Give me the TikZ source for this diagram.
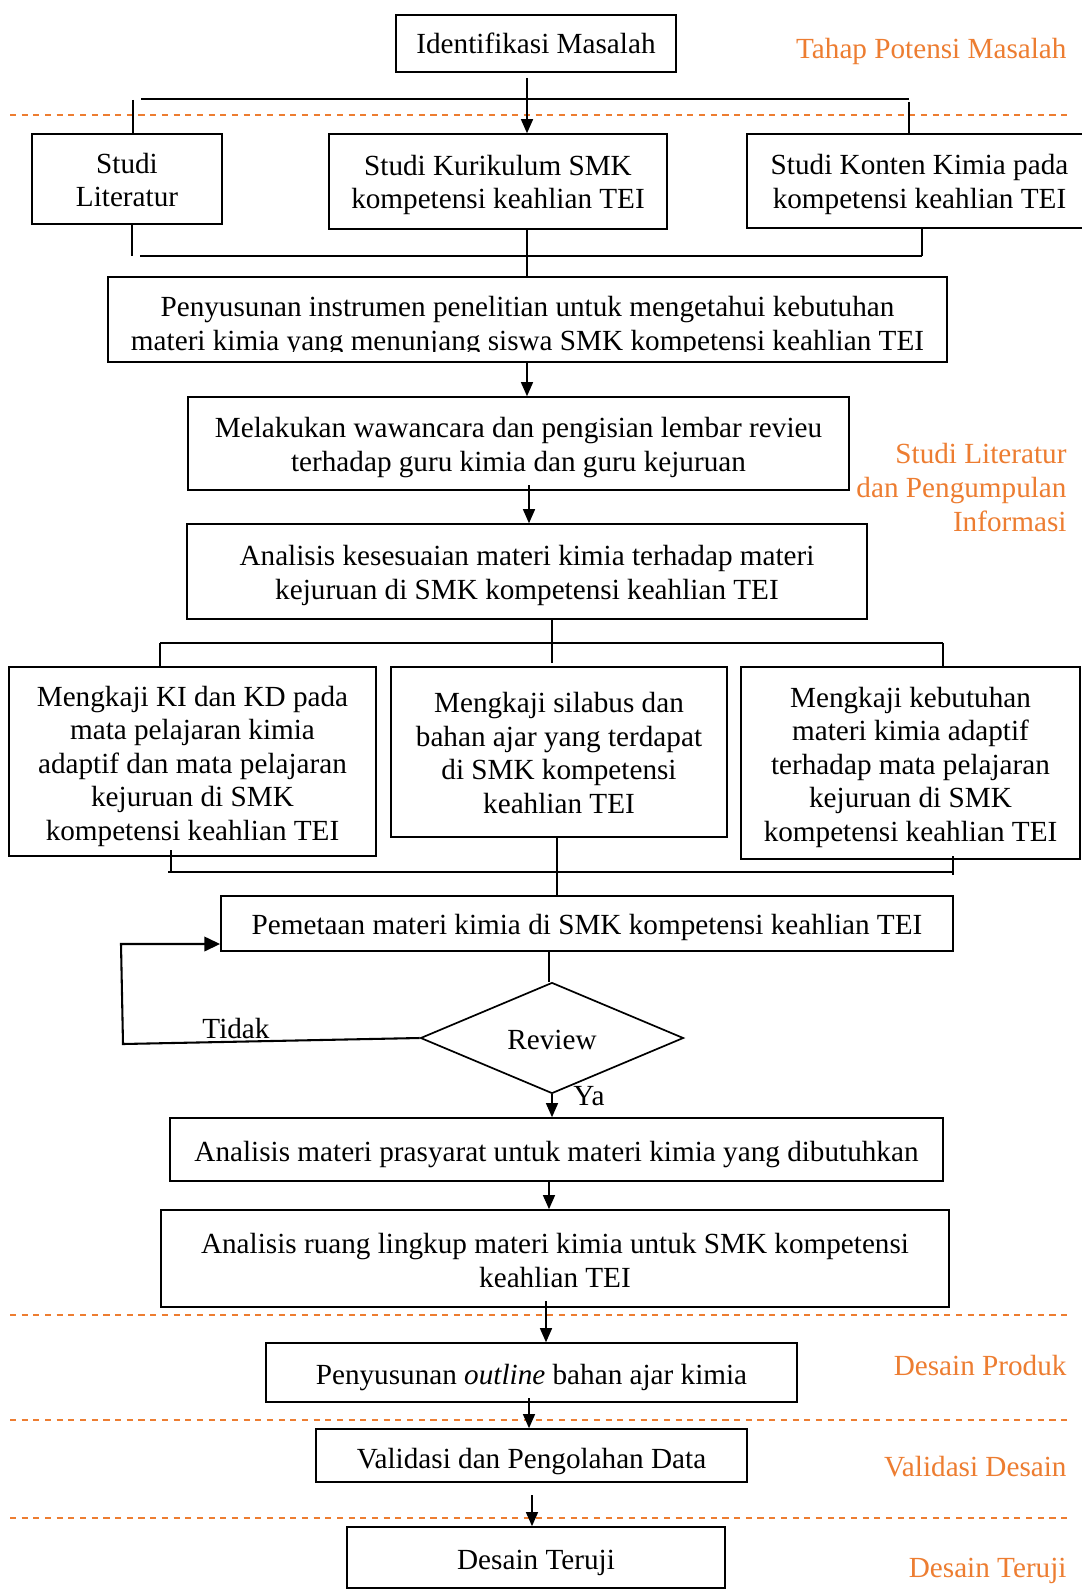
\documentclass[tikz,border=0pt]{standalone}
\usepackage{fontspec}
\setmainfont{Liberation Serif}
\usetikzlibrary{shapes.geometric,arrows.meta,calc}
\definecolor{org}{HTML}{ED7D31}
% text block lowered by #1 without changing the node's size
\newcommand\tbk[2][0pt]{\raisebox{-#1}[\height][\depth]{\begin{tabular}{@{}c@{}}#2\end{tabular}}}
\begin{document}
\begin{tikzpicture}[x=0.411pt,y=-0.411pt,
  every node/.style={font=\fontsize{12pt}{13.8pt}\selectfont},
  box/.style={draw, line width=0.7pt, inner sep=0pt},
  conn/.style={line width=0.45pt},
  arr/.style={line width=0.45pt, -{Triangle[length=5.8pt,width=5pt]}},
  brk/.style={line width=1.1pt},
  loopl/.style={line width=0.85pt},
  phase/.style={draw=org, line width=0.8pt, dash pattern=on 2.5pt off 2.3pt},
  lbl/.style={text=org, align=right, anchor=east, inner sep=0pt},
]
\path[use as bounding box, fill=white] (0,0) rectangle (1081,1590);

% phase separators
\foreach \yy in {115,1315,1420,1518} \draw[phase] (10,\yy) -- (1067,\yy);

% boxes
\node[box, minimum width=115.1pt, minimum height=23.4pt] (I) at (536,43.5) {\tbk[1.34pt]{Identifikasi Masalah}};
\node[box, minimum width=78.1pt, minimum height=37pt] (SL) at (127,179) {\tbk[1.74pt]{Studi\\Literatur}};
\node[box, minimum width=138.9pt, minimum height=39pt] (SK) at (498,181.5) {\tbk[1.5pt]{Studi Kurikulum SMK\\kompetensi keahlian TEI}};
\node[box, minimum width=141.8pt, minimum height=38.6pt] (SKK) at (919.5,181) {\tbk[1.5pt]{Studi Konten Kimia pada\\kompetensi keahlian TEI}};
\node[box, minimum width=344.8pt, minimum height=34.9pt] (P) at (527.5,319.5) {\tbk[2.9pt]{Penyusunan instrumen penelitian untuk mengetahui kebutuhan\\materi kimia yang menunjang siswa SMK kompetensi keahlian TEI}};
\fill[white] (110,351.5) rectangle (945,360);
\node[box, minimum width=271.7pt, minimum height=38.2pt] (M) at (518.5,443.5) {\tbk[1.7pt]{Melakukan wawancara dan pengisian lembar revieu\\terhadap guru kimia dan guru kejuruan}};
\node[box, minimum width=279.5pt, minimum height=39pt] (AK) at (527,571.5) {\tbk[1.7pt]{Analisis kesesuaian materi kimia terhadap materi\\kejuruan di SMK kompetensi keahlian TEI}};
\node[box, minimum width=150.8pt, minimum height=77.7pt] (A) at (192.5,761.5) {\tbk[2.1pt]{Mengkaji KI dan KD pada\\mata pelajaran kimia\\adaptif dan mata pelajaran\\kejuruan di SMK\\kompetensi keahlian TEI}};
\node[box, minimum width=138.1pt, minimum height=69.9pt] (B) at (559,752) {\tbk[1.74pt]{Mengkaji silabus dan\\bahan ajar yang terdapat\\di SMK kompetensi\\keahlian TEI}};
\node[box, minimum width=139.3pt, minimum height=78.9pt] (C) at (910.5,763) {\tbk[1.9pt]{Mengkaji kebutuhan\\materi kimia adaptif\\terhadap mata pelajaran\\kejuruan di SMK\\kompetensi keahlian TEI}};
\node[box, minimum width=300.9pt, minimum height=22.6pt] (PM) at (587,923.5) {\tbk[1.7pt]{Pemetaan materi kimia di SMK kompetensi keahlian TEI}};
\node[draw, diamond, aspect=2.37, line width=0.7pt, inner sep=0pt, minimum width=108.1pt, minimum height=45.6pt] (R) at (552,1038) {\tbk[2.1pt]{Review}};
\node[box, minimum width=317.7pt, minimum height=25.9pt] (AP) at (556.5,1149.5) {\tbk[2.1pt]{Analisis materi prasyarat untuk materi kimia yang dibutuhkan}};
\node[box, minimum width=323.9pt, minimum height=39.9pt] (AR) at (555,1258.5) {\tbk[2.1pt]{Analisis ruang lingkup materi kimia untuk SMK kompetensi\\keahlian TEI}};
\node[box, minimum width=218.2pt, minimum height=24.2pt] (PO) at (531.5,1372.5) {\tbk[2.1pt]{Penyusunan \textit{outline} bahan ajar kimia}};
\node[box, minimum width=177.1pt, minimum height=21.8pt] (V) at (531.5,1455.5) {\tbk[2.5pt]{Validasi dan Pengolahan Data}};
\node[box, minimum width=155.4pt, minimum height=25.1pt] (DT) at (536,1557.5) {\tbk[2.1pt]{Desain Teruji}};

% phase labels
\node[lbl] (L1) at (1067,51) {Tahap Potensi Masalah};
\node[lbl] (L2) at (1067,487.5) {Studi Literatur\\dan Pengumpulan\\Informasi};
\node[lbl] (L3) at (1067,1365) {Desain Produk};
\node[lbl] (L4) at (1067,1467) {Validasi Desain};
\node[lbl] (L5) at (1067,1571) {Desain Teruji};

% decision labels
\node[inner sep=0pt] (td) at (236,1028) {Tidak};
\node[inner sep=0pt] (ya) at (589,1096) {Ya};

% connectors: top
\coordinate (c1) at (527,78);
\draw[arr] (c1) -- (c1 |- SK.north);
\coordinate (b1a) at (141,99); \coordinate (b1b) at (909,99);
\draw[brk] (b1a) -- (b1b);
\coordinate (tl) at (133,100); \draw[brk] (tl) -- (tl |- SL.north);
\coordinate (tr) at (909,102); \draw[line width=0.7pt] (tr) -- (tr |- SKK.north);
% row 1 join
\coordinate (bl) at (132,256); \coordinate (br) at (922,256);
\draw[brk] ($(bl)+(8,0)$) -- (br);
\draw[conn] (bl |- SL.south) -- (bl);
\draw[conn] (br |- SKK.south) -- (br);
\draw[conn] (c1 |- SK.south) -- (c1 |- P.north);
\draw[arr] (c1 |- P.south) -- (c1 |- M.north);
\coordinate (c2) at (529,485);
\draw[arr] (c2) -- (c2 |- AK.north);
% row 2 split
\coordinate (c3) at (552,663);
\draw[conn] (c3 |- AK.south) -- (c3);
\coordinate (d1) at (160,643); \coordinate (d2) at (943,643);
\draw[brk] (d1) -- (d2);
\draw[conn] (d1) -- (d1 |- A.north);
\draw[conn] (d2) -- (d2 |- C.north);
% row 2 join
\coordinate (e1) at (171,850); \coordinate (e2) at (953,856);
\coordinate (f1) at (168,872); \coordinate (f2) at (953,872);
\draw[brk] (f1) -- (f2);
\draw[conn] (e1) -- (e1 |- f1);
\draw[conn] (e2) -- ($(f2)+(0,3)$);
\coordinate (c4) at (557,0);
\draw[conn] (c4 |- B.south) -- (c4 |- PM.north);
\coordinate (c5) at (549,0);
\draw[conn] (c5 |- PM.south) -- (c5 |- R.north);
% loop back
\coordinate (t1) at (123,1044); \coordinate (t2) at (121,944);
\draw[loopl, -{Triangle[length=6.5pt,width=6pt]}] (R.west) -- (t1) -- (t2) -- (t2 -| PM.west);
% lower chain
\draw[arr] (R.south) -- (R.south |- AP.north);
\coordinate (c6) at (549,0);
\draw[arr] (c6 |- AP.south) -- (c6 |- AR.north);
\coordinate (c7) at (546,1301);
\draw[arr] (c7) -- (c7 |- PO.north);
\coordinate (c8) at (529,1398);
\draw[arr] (c8) -- (c8 |- V.north);
\coordinate (c9) at (532,1495);
\draw[arr] (c9) -- (c9 |- DT.north);
\end{tikzpicture}
\end{document}
